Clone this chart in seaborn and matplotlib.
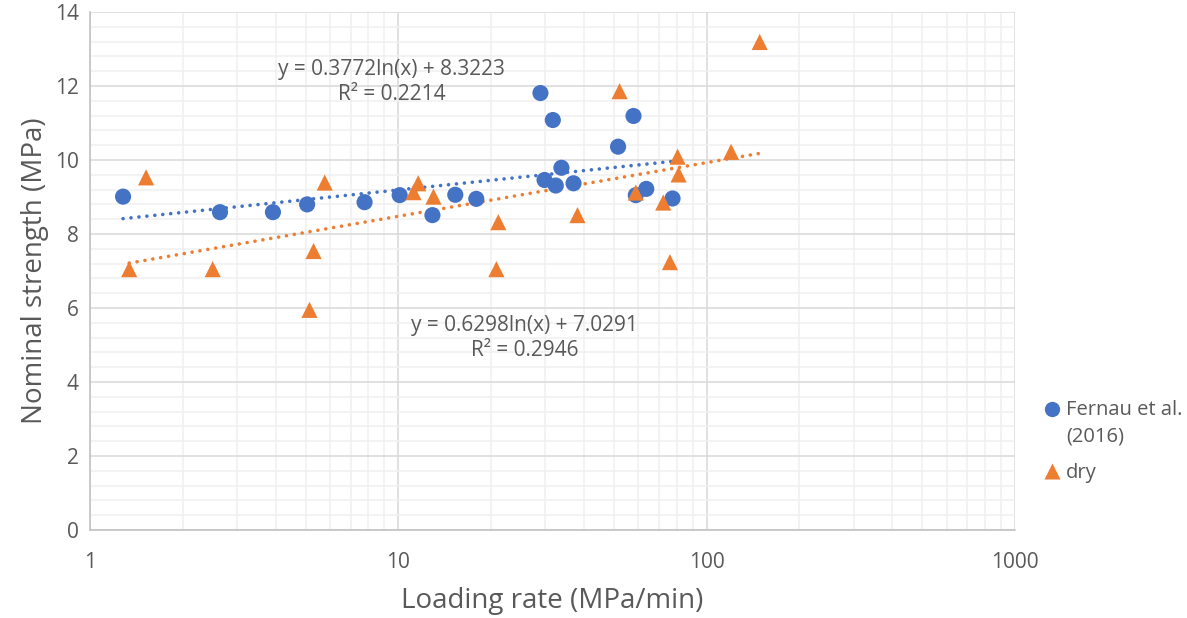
import numpy as np
import pandas as pd
import matplotlib
matplotlib.use("Agg")
import matplotlib.pyplot as plt
from matplotlib.ticker import MultipleLocator, LogLocator, NullFormatter, FixedLocator, FixedFormatter
from matplotlib.lines import Line2D
import seaborn as sns

# ---- data ----
fernau_rate = [1.28, 2.64, 3.92, 5.06, 7.77, 10.1, 12.9, 15.3, 17.9, 28.9,
               29.8, 31.7, 32.4, 33.8, 37.0, 51.6, 57.9, 58.9, 63.7, 77.5]
fernau_strength = [9.01, 8.59, 8.59, 8.80, 8.86, 9.05, 8.51, 9.06, 8.95, 11.81,
                   9.46, 11.08, 9.31, 9.79, 9.37, 10.36, 11.19, 9.05, 9.22, 8.96]
dry_rate = [1.34, 1.52, 2.50, 5.15, 5.31, 5.77, 11.2, 11.6, 13.0, 20.8,
            21.1, 38.1, 52.2, 58.9, 72.3, 76.0, 80.5, 81.1, 120.0, 148.6]
dry_strength = [7.05, 9.53, 7.05, 5.95, 7.54, 9.39, 9.13, 9.37, 9.01, 7.05,
                8.32, 8.51, 11.86, 9.12, 8.85, 7.24, 10.09, 9.61, 10.22, 13.19]

series_names = ["Fernau et al.\n(2016)", "dry"]
trend_slope = [0.3772, 0.6298]
trend_intercept = [8.3223, 7.0291]
trend_r2 = [0.2214, 0.2946]

x_ticks = [1, 10, 100, 1000]
x_tick_labels = ["1", "10", "100", "1000"]

colors = ["#4472C4", "#ED7D31"]
markers = ["o", "^"]

df = pd.DataFrame({
    "rate": fernau_rate + dry_rate,
    "strength": fernau_strength + dry_strength,
    "series": [series_names[0]] * len(fernau_rate) + [series_names[1]] * len(dry_rate),
})

sns.set_theme(style="white")
plt.rcParams['font.family'] = ['Open Sans', 'DejaVu Sans']

fig = plt.figure(figsize=(11.87, 6.18), dpi=100)
ax = fig.add_axes([90 / 1187, 1 - 530 / 618, (1015 - 90) / 1187, (530 - 12) / 618])

grey_text = "#595959"

ax.set_xscale("log")
ax.set_xlim(1, 1000)
ax.set_ylim(0, 14)

# gridlines
ax.xaxis.set_major_locator(FixedLocator(x_ticks))
ax.xaxis.set_major_formatter(FixedFormatter(x_tick_labels))
ax.xaxis.set_minor_locator(LogLocator(base=10, subs=np.arange(2, 10)))
ax.xaxis.set_minor_formatter(NullFormatter())
ax.yaxis.set_major_locator(MultipleLocator(2))
ax.yaxis.set_minor_locator(MultipleLocator(0.4))
ax.grid(which="major", color="#d9d9d9", linewidth=1.1)
ax.grid(which="minor", color="#f0f0f0", linewidth=1.1)
ax.set_axisbelow(True)

for s in ["top", "right"]:
    ax.spines[s].set_visible(False)
for s in ["left", "bottom"]:
    ax.spines[s].set_color("#bfbfbf")
    ax.spines[s].set_linewidth(1.1)

ax.tick_params(axis="x", which="major", direction="out", length=5, color="#bfbfbf",
               labelsize=15, labelcolor=grey_text, pad=11)
ax.tick_params(axis="x", which="minor", length=0)
ax.tick_params(axis="y", which="major", length=0, labelsize=15, labelcolor=grey_text, pad=8)
ax.tick_params(axis="y", which="minor", length=0)

# trendlines
rates = [fernau_rate, dry_rate]
for i in range(2):
    xs = np.logspace(np.log10(min(rates[i])), np.log10(max(rates[i])), 200)
    ys = trend_slope[i] * np.log(xs) + trend_intercept[i]
    ax.plot(xs, ys, color=colors[i], linewidth=2.6, linestyle=(0, (0.01, 2.2)),
            dash_capstyle="round", zorder=2)

sns.scatterplot(data=df, x="rate", y="strength", hue="series", style="series",
                palette=colors, markers=markers, s=135, edgecolor="none",
                ax=ax, legend=False, zorder=3)

# equations
eq_pos = [(9.5, 12.12), (25.7, 5.19)]
for i in range(2):
    ax.text(eq_pos[i][0], eq_pos[i][1],
            f"y = {trend_slope[i]:.4f}ln(x) + {trend_intercept[i]:.4f}\nR\u00b2 = {trend_r2[i]:.4f}",
            ha="center", va="center", multialignment="center", fontsize=15,
            color=grey_text, linespacing=1.25)

ax.set_xlabel("Loading rate (MPa/min)", fontsize=20, color=grey_text, labelpad=10)
ax.set_ylabel("Nominal strength (MPa)", fontsize=20, color=grey_text, labelpad=4)

handles = [Line2D([0], [0], marker=markers[i], color="none", markerfacecolor=colors[i],
                  markeredgecolor="none", markersize=11) for i in range(2)]
leg = fig.legend(handles, series_names, loc="upper left",
                 bbox_to_anchor=(1042 / 1187, 1 - 400 / 618),
                 frameon=False, fontsize=14.5, labelcolor=grey_text, handletextpad=0.2,
                 handlelength=1.0, labelspacing=0.8, borderpad=0, borderaxespad=0)
for t in leg.get_texts():
    t.set_linespacing(1.45)

# align the two-line entry's marker with its first text line (as in the reference)
for h in leg.legend_handles[:1]:
    h.set_ydata(np.asarray(h.get_ydata(), dtype=float) + 10.5)

fig.savefig("out.png", dpi=100)
